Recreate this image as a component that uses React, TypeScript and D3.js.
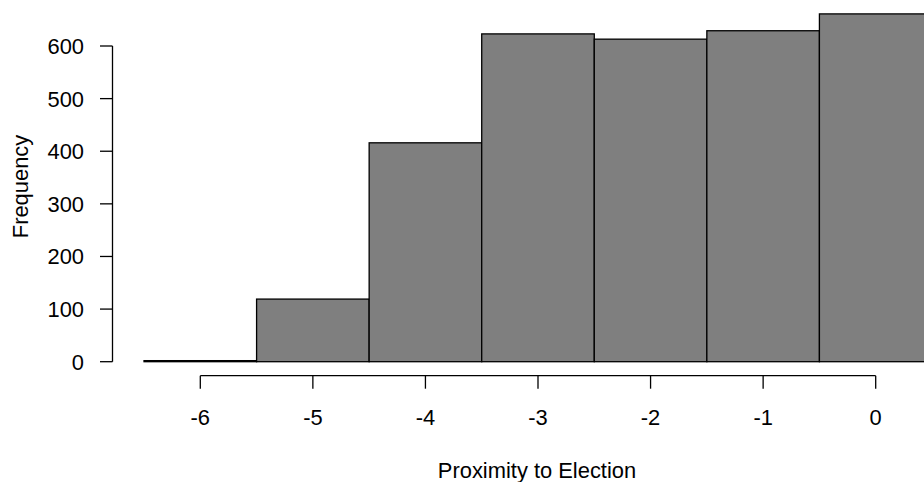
import React from "react";
import * as d3 from "d3";

const binCenters = [-6, -5, -4, -3, -2, -1, 0];
const counts = [2, 119, 416, 623, 613, 629, 661];
const xTicks = [-6, -5, -4, -3, -2, -1, 0];
const yTicks = [0, 100, 200, 300, 400, 500, 600];

const W = 924;
const H = 482;
const FONT = "'Liberation Sans', Arial, sans-serif";
const FS = 21.9;

export default function App() {
  const x = d3.scaleLinear().domain([-6, 0]).range([200.3, 875.7]);
  const y = d3.scaleLinear().domain([0, 600]).range([361.7, 46]);
  const axisY = 375.7;
  const axisX = 112.5;
  return (
    <svg
      width={W}
      height={H}
      style={{ position: "absolute", left: 0, top: 0, background: "#fff" }}
    >
      {binCenters.map((c, i) => (
        <rect
          key={i}
          x={x(c - 0.5)}
          y={y(counts[i])}
          width={x(c + 0.5) - x(c - 0.5)}
          height={y(0) - y(counts[i])}
          fill="#7f7f7f"
          stroke="#000"
          strokeWidth={1.3}
        />
      ))}
      {/* x axis */}
      <line x1={x(-6)} x2={x(0)} y1={axisY} y2={axisY} stroke="#000" strokeWidth={1.3} />
      {xTicks.map((t) => (
        <g key={t}>
          <line x1={x(t)} x2={x(t)} y1={axisY} y2={axisY + 13} stroke="#000" strokeWidth={1.3} />
          <text x={x(t)} y={425} textAnchor="middle" fontFamily={FONT} fontSize={FS} fill="#000">
            {t}
          </text>
        </g>
      ))}
      {/* y axis */}
      <line x1={axisX} x2={axisX} y1={y(0)} y2={y(600)} stroke="#000" strokeWidth={1.3} />
      {yTicks.map((t) => (
        <g key={t}>
          <line x1={axisX - 12.5} x2={axisX} y1={y(t)} y2={y(t)} stroke="#000" strokeWidth={1.3} />
          <text x={84} y={y(t) + 8} textAnchor="end" fontFamily={FONT} fontSize={FS} fill="#000">
            {t}
          </text>
        </g>
      ))}
      <text x={537} y={478} textAnchor="middle" fontFamily={FONT} fontSize={FS} fill="#000">
        Proximity to Election
      </text>
      <text
        transform={`translate(28,${(135 + 238) / 2}) rotate(-90)`}
        textAnchor="middle"
        fontFamily={FONT}
        fontSize={FS}
        fill="#000"
      >
        Frequency
      </text>
    </svg>
  );
}
